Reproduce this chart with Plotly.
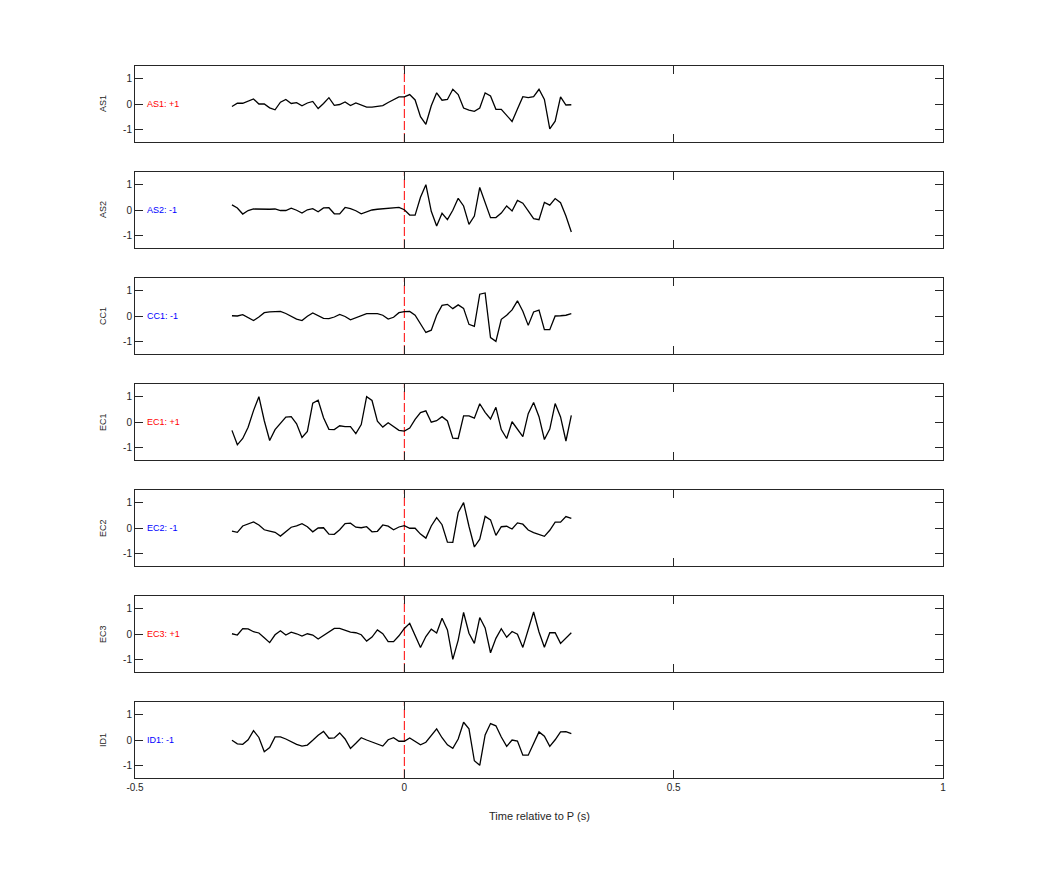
import numpy as np
import plotly.graph_objects as go

# ---------------- data ----------------
stations = ["AS1", "AS2", "CC1", "EC1", "EC2", "EC3", "ID1"]
polarity = ["+1", "-1", "-1", "+1", "-1", "+1", "-1"]

t_start = -0.32
dt = 0.01
n_samples = 64
time = [round(t_start + dt * i, 2) for i in range(n_samples)]

as1 = [-0.1, 0.03, 0.03, 0.1, 0.2, 0.0, 0.0, -0.15, -0.23, 0.07, 0.18, 0.02, 0.05, -0.07, 0.04, 0.1,
       -0.18, 0.02, 0.25, -0.05, -0.02, 0.08, -0.06, 0.04, -0.03, -0.12, -0.12, -0.09, -0.06, 0.06, 0.17, 0.28,
       0.28, 0.37, 0.16, -0.5, -0.8, -0.07, 0.44, 0.15, 0.18, 0.58, 0.37, -0.16, -0.24, -0.29, -0.16, 0.44,
       0.32, -0.21, -0.21, -0.45, -0.69, -0.2, 0.29, 0.25, 0.29, 0.58, 0.18, -0.98, -0.68, 0.28, -0.04, -0.03]
as2 = [0.2, 0.08, -0.16, -0.02, 0.04, 0.03, 0.03, 0.03, 0.04, -0.02, -0.02, 0.07, -0.01, -0.12, 0.01, 0.05,
       -0.07, 0.08, 0.09, -0.15, -0.15, 0.1, 0.05, -0.03, -0.15, -0.07, 0.0, 0.03, 0.05, 0.05, 0.1, 0.1,
       0.01, -0.2, -0.2, 0.5, 1.0, -0.05, -0.63, -0.13, -0.38, -0.01, 0.46, 0.16, -0.57, -0.24, 0.89, 0.27,
       -0.3, -0.3, -0.12, 0.16, -0.04, 0.38, 0.27, -0.03, -0.34, -0.38, 0.3, 0.19, 0.45, 0.29, -0.24, -0.87]
cc1 = [0.01, 0.0, 0.05, -0.05, -0.18, -0.04, 0.13, 0.16, 0.18, 0.18, 0.1, -0.02, -0.12, -0.18, -0.01, 0.12,
       0.03, -0.09, -0.1, -0.04, 0.06, -0.02, -0.15, -0.07, 0.04, 0.09, 0.09, 0.09, 0.03, -0.12, -0.05, 0.13,
       0.17, 0.18, 0.03, -0.33, -0.65, -0.56, 0.03, 0.42, 0.46, 0.29, 0.44, 0.3, -0.33, -0.41, 0.86, 0.91,
       -0.85, -1.0, -0.13, 0.03, 0.24, 0.6, 0.19, -0.37, 0.16, 0.23, -0.54, -0.54, 0.0, 0.01, 0.03, 0.09]
ec1 = [-0.33, -0.9, -0.65, -0.21, 0.45, 1.0, 0.05, -0.73, -0.3, -0.05, 0.19, 0.21, -0.07, -0.61, -0.37, 0.74,
       0.86, 0.17, -0.29, -0.3, -0.15, -0.18, -0.18, -0.46, -0.1, 1.0, 0.85, 0.03, -0.2, -0.03, -0.18, -0.33,
       -0.36, -0.24, 0.1, 0.37, 0.44, -0.01, 0.05, 0.21, 0.04, -0.64, -0.65, 0.24, 0.24, 0.15, 0.72, 0.38,
       0.12, 0.58, -0.3, -0.65, 0.01, -0.29, -0.58, 0.33, 0.77, 0.21, -0.69, -0.28, 0.73, 0.2, -0.75, 0.26]
ec2 = [-0.12, -0.17, 0.08, 0.15, 0.24, 0.12, -0.07, -0.12, -0.17, -0.32, -0.15, 0.03, 0.08, 0.17, 0.05, -0.15,
       0.0, 0.01, -0.24, -0.25, -0.07, 0.17, 0.19, 0.03, 0.01, 0.05, -0.15, -0.13, 0.12, 0.07, -0.07, 0.04,
       0.09, -0.01, -0.01, -0.24, -0.4, 0.08, 0.41, 0.13, -0.56, -0.57, 0.61, 1.0, 0.07, -0.75, -0.44, 0.46,
       0.32, -0.29, 0.05, 0.07, -0.04, 0.2, 0.15, -0.08, -0.18, -0.24, -0.33, -0.09, 0.23, 0.23, 0.45, 0.38]
ec3 = [0.01, -0.04, 0.21, 0.2, 0.09, 0.04, -0.15, -0.34, -0.03, 0.13, -0.04, 0.07, 0.01, -0.08, 0.01, -0.04,
       -0.2, -0.07, 0.08, 0.22, 0.22, 0.16, 0.07, 0.05, -0.03, -0.28, -0.12, 0.16, 0.01, -0.3, -0.3, -0.07,
       0.22, 0.42, -0.08, -0.53, -0.1, 0.19, 0.04, 0.62, 0.16, -1.0, -0.24, 0.85, 0.03, -0.37, 0.65, 0.24,
       -0.74, -0.17, 0.21, -0.13, 0.1, -0.01, -0.53, 0.15, 0.87, 0.08, -0.52, 0.05, 0.05, -0.37, -0.17, 0.05]
id1 = [-0.01, -0.15, -0.17, 0.01, 0.37, 0.1, -0.46, -0.3, 0.12, 0.12, 0.04, -0.08, -0.17, -0.24, -0.2, -0.01,
       0.19, 0.34, 0.07, 0.08, 0.28, 0.04, -0.33, -0.13, 0.09, 0.0, -0.09, -0.17, -0.24, 0.01, 0.09, -0.05,
       -0.05, 0.08, -0.04, -0.19, -0.09, 0.16, 0.44, 0.09, -0.19, -0.33, 0.04, 0.7, 0.44, -0.82, -1.0, 0.2,
       0.65, 0.56, 0.12, -0.25, 0.0, -0.04, -0.6, -0.6, -0.12, 0.32, 0.15, -0.25, 0.01, 0.32, 0.33, 0.25]

traces = [as1, as2, cc1, ec1, ec2, ec3, id1]

x_range = [-0.5, 1.0]
y_range = [-1.5, 1.5]
x_ticks = [-0.5, 0, 0.5, 1]
x_ticklabels = ["-0.5", "0", "0.5", "1"]
y_ticks = [-1, 0, 1]
y_ticklabels = ["-1", "0", "1"]
pick_time = [0, 0]
pick_y = [-1.5, 1.5]
label_x = -0.482

# ---------------- layout ----------------
W, H = 1042, 875
OFF = 8  # page body margin compensation
left_px, right_px = 135 - OFF, 943 - OFF
top0, panel_h, step = 66 - OFF, 76, 106
ylab_px = 103 - OFF
xlab_px = 816 - OFF
axis_col = "#262626"
font_fam = "Liberation Sans, Arial, Helvetica, sans-serif"

fig = go.Figure()
annotations = []

for k, (sta, pol, ys) in enumerate(zip(stations, polarity, traces)):
    idx = "" if k == 0 else str(k + 1)
    xa, ya = "x" + idx, "y" + idx
    top = top0 + step * k
    bot = top + panel_h
    dom_y = [1 - bot / H, 1 - top / H]

    # P pick line
    fig.add_trace(go.Scatter(x=pick_time, y=pick_y, mode="lines",
                             line=dict(color="#ff0000", width=1, dash="9px,3px"),
                             xaxis=xa, yaxis=ya, showlegend=False, hoverinfo="skip"))
    # waveform
    fig.add_trace(go.Scatter(x=time, y=ys, mode="lines",
                             line=dict(color="black", width=1.3),
                             xaxis=xa, yaxis=ya, showlegend=False))

    last = (k == len(stations) - 1)
    fig.update_layout(**{
        "xaxis" + idx: dict(domain=[left_px / W, right_px / W], range=x_range,
                            tickvals=x_ticks, ticktext=x_ticklabels,
                            showticklabels=last, ticks="inside", ticklen=8, tickwidth=1,
                            tickcolor=axis_col, showline=True, linecolor=axis_col, linewidth=1,
                            mirror="ticks", showgrid=False, zeroline=False, automargin=False,
                            anchor=ya, tickfont=dict(size=10, color=axis_col, family=font_fam),
                            layer="above traces"),
        "yaxis" + idx: dict(domain=dom_y, range=y_range,
                            tickvals=y_ticks, ticktext=y_ticklabels,
                            ticks="inside", ticklen=8, tickwidth=1, tickcolor=axis_col,
                            showline=True, linecolor=axis_col, linewidth=1, mirror="ticks",
                            showgrid=False, zeroline=False, anchor=xa, automargin=False,
                            tickfont=dict(size=10, color=axis_col, family=font_fam),
                            layer="above traces"),
    })

    col = "#ff0000" if pol.startswith("+") else "#0000ff"
    annotations.append(dict(x=label_x, y=0, xref=xa, yref=ya, text=f"{sta}: {pol}",
                            showarrow=False, xanchor="left", yanchor="middle",
                            font=dict(size=9, color=col, family=font_fam)))
    annotations.append(dict(x=ylab_px / W, y=0.5, xref="paper", yref=ya + " domain", text=sta,
                            textangle=-90, showarrow=False, xanchor="center", yanchor="middle",
                            font=dict(size=9, color=axis_col, family=font_fam)))

annotations.append(dict(x=(left_px + right_px) / 2 / W, y=1 - xlab_px / H, xref="paper", yref="paper",
                        text="Time relative to P (s)", showarrow=False,
                        xanchor="center", yanchor="middle",
                        font=dict(size=11, color=axis_col, family=font_fam)))

fig.update_layout(width=W, height=H, margin=dict(l=0, r=0, t=0, b=0, autoexpand=False),
                  paper_bgcolor="white", plot_bgcolor="white",
                  annotations=annotations, showlegend=False)

fig.write_html("out.html")
